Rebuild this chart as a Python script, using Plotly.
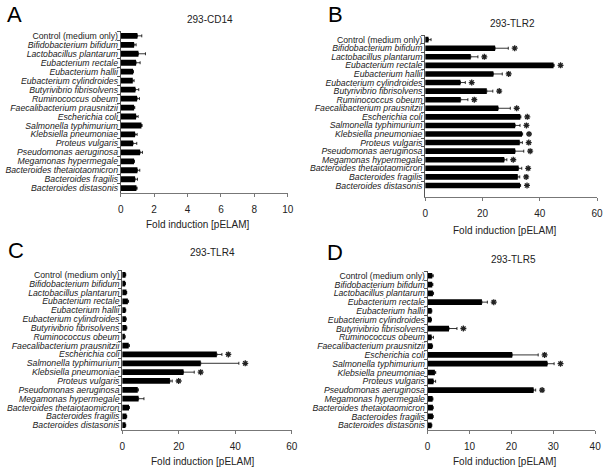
import plotly.graph_objects as go

W, H = 611, 472

categories = [
    "Control (medium only)", "Bifidobacterium bifidum", "Lactobacillus plantarum",
    "Eubacterium rectale", "Eubacterium hallii", "Eubacterium cylindroides",
    "Butyrivibrio fibrisolvens", "Ruminococcus obeum", "Faecalibacterium prausnitzii",
    "Escherichia coli", "Salmonella typhimurium", "Klebsiella pneumoniae",
    "Proteus vulgaris", "Pseudomonas aeruginosa", "Megamonas hypermegale",
    "Bacteroides thetaiotaomicron", "Bacteroides fragilis", "Bacteroides distasonis",
]

# 293-CD14
cd14_mean = [1.0, 0.8, 1.06, 0.92, 0.74, 0.72, 0.88, 0.98, 0.8, 0.92, 1.24, 0.86, 0.74, 1.16, 0.8, 1.0, 0.86, 0.94]
cd14_err = [0.26, 0.12, 0.42, 0.24, 0.02, 0.08, 0.2, 0.14, 0.04, 0.12, 0.04, 0.12, 0.22, 0.14, 0.02, 0.14, 0.14, 0.04]
cd14_sig = [False] * 18

# 293-TLR2
tlr2_mean = [1.15, 24.4, 15.9, 44.8, 23.8, 12.3, 21.5, 12.4, 25.5, 33.2, 31.4, 33.8, 33.0, 31.4, 27.6, 32.6, 32.3, 33.1]
tlr2_err = [0.9, 4.6, 2.5, 0.2, 3.1, 1.7, 2.1, 2.5, 4.2, 0.2, 1.7, 0.2, 0.9, 3.0, 0.9, 1.1, 0.7, 0.2]
tlr2_sig = [False] + [True] * 17

# 293-TLR4
tlr4_mean = [1.16, 1.05, 1.5, 2.0, 1.16, 1.3, 1.5, 0.93, 2.3, 33.5, 27.8, 21.7, 16.9, 5.5, 5.8, 2.4, 1.5, 1.16]
tlr4_err = [0.1, 0.1, 0.1, 0.25, 0.1, 0.1, 0.15, 0.1, 0.25, 1.8, 13.5, 3.8, 0.8, 0.2, 1.9, 0.15, 0.1, 0.1]
tlr4_sig = [False] * 9 + [True, True, True, True] + [False] * 5

# 293-TLR5
tlr5_mean = [1.1, 1.1, 1.26, 12.96, 0.94, 0.86, 5.1, 0.94, 1.1, 20.2, 28.6, 1.73, 1.4, 25.3, 1.18, 1.26, 1.26, 0.94]
tlr5_err = [0.24, 0.15, 0.15, 1.3, 0.05, 0.05, 1.9, 0.45, 0.08, 6.2, 1.6, 0.2, 0.5, 0.5, 0.08, 0.05, 0.05, 0.05]
tlr5_sig = [False, False, False, True, False, False, True, False, False, True, True, False, False, True, False, False, False, False]

panel_letters = ["A", "B", "C", "D"]
panel_titles = ["293-CD14", "293-TLR2", "293-TLR4", "293-TLR5"]
x_ranges = [[0, 10], [0, 60], [0, 60], [0, 40]]
x_dticks = [2, 20, 20, 10]
x_title = "Fold induction [pELAM]"

means = [cd14_mean, tlr2_mean, tlr4_mean, tlr5_mean]
errs = [cd14_err, tlr2_err, tlr4_err, tlr5_err]
sigs = [cd14_sig, tlr2_sig, tlr4_sig, tlr5_sig]

# layout geometry in pixels: (x0, x1, ytop, ybottom)
boxes = [(119.5, 289, 30.5, 192.5), (428.5, 603, 34.5, 196.5),
         (121, 293, 270.5, 430.5), (431, 601, 271.5, 430.5)]
letter_pos = [(12, 14), (337, 14), (13, 251), (337, 253)]
title_pos = [(210, 19), (517, 23), (213, 253), (518, 260)]
axtitle_pos = [(198, 224), (510, 230), (203, 462), (509, 462)]
STAR_GAP_PX = 6.5

FONT = "Liberation Sans, Arial, sans-serif"
labels = [c if c.startswith("Control") else "<i>" + c + "</i>" for c in categories]

fig = go.Figure()
annotations = []
for i in range(4):
    ax = "" if i == 0 else str(i + 1)
    x0, x1, yt, yb = boxes[i]
    fig.add_trace(go.Bar(
        x=means[i], y=labels, orientation="h",
        marker=dict(color="black", line=dict(width=0)),
        error_x=dict(type="data", symmetric=False, array=errs[i],
                     arrayminus=[0] * len(errs[i]), color="black",
                     thickness=0.8, width=1.5),
        xaxis="x" + ax, yaxis="y" + ax, showlegend=False, hoverinfo="skip",
    ))
    # significance stars as asterisk markers just past the error bar
    units_per_px = (x_ranges[i][1] - x_ranges[i][0]) / (x1 - x0)
    sx = [means[i][j] + errs[i][j] + STAR_GAP_PX * units_per_px
          for j in range(len(categories)) if sigs[i][j]]
    sy = [labels[j] for j in range(len(categories)) if sigs[i][j]]
    if sx:
        fig.add_trace(go.Scatter(
            x=sx, y=sy, mode="markers",
            marker=dict(symbol="asterisk-open", size=5, color="#222",
                        line=dict(width=1.3, color="#222")),
            xaxis="x" + ax, yaxis="y" + ax, showlegend=False, hoverinfo="skip",
        ))
    fig.layout["xaxis" + ax] = dict(
        domain=[x0 / W, x1 / W], range=x_ranges[i], dtick=x_dticks[i],
        anchor="y" + ax, showgrid=False, zeroline=False,
        showline=True, linecolor="#777", linewidth=1,
        ticks="outside", ticklen=3, tickcolor="#777",
        tickfont=dict(size=10, color="#222", family=FONT),
        ticklabelstandoff=4,
    )
    fig.layout["yaxis" + ax] = dict(
        domain=[1 - yb / H, 1 - yt / H], anchor="x" + ax,
        autorange="reversed", type="category",
        tickmode="linear", tick0=0, dtick=1,
        showgrid=False, zeroline=False,
        showline=True, linecolor="#555", linewidth=1,
        ticks="outside", ticklen=3, tickcolor="#555", tickson="boundaries",
        tickfont=dict(size=8.7, color="#222", family=FONT),
    )
    lx, ly = letter_pos[i]
    annotations.append(dict(x=lx / W, y=1 - ly / H, xref="paper", yref="paper",
                            text=panel_letters[i], showarrow=False,
                            xanchor="center", yanchor="middle",
                            font=dict(size=22, color="black", family=FONT)))
    tx, ty = title_pos[i]
    annotations.append(dict(x=tx / W, y=1 - ty / H, xref="paper", yref="paper",
                            text=panel_titles[i], showarrow=False,
                            xanchor="center", yanchor="middle",
                            font=dict(size=10, color="#222", family=FONT)))
    axx, axy = axtitle_pos[i]
    annotations.append(dict(x=axx / W, y=1 - axy / H, xref="paper", yref="paper",
                            text=x_title, showarrow=False,
                            xanchor="center", yanchor="middle",
                            font=dict(size=10, color="#222", family=FONT)))

fig.update_layout(
    width=W, height=H, margin=dict(l=0, r=0, t=0, b=0),
    paper_bgcolor="white", plot_bgcolor="white",
    bargap=0.35, barmode="overlay", annotations=annotations,
    font=dict(family=FONT, color="#222"),
)

fig.write_html("out.html", config={"displayModeBar": False},
               post_script="document.body.style.margin='0';document.body.style.overflow='hidden';")
